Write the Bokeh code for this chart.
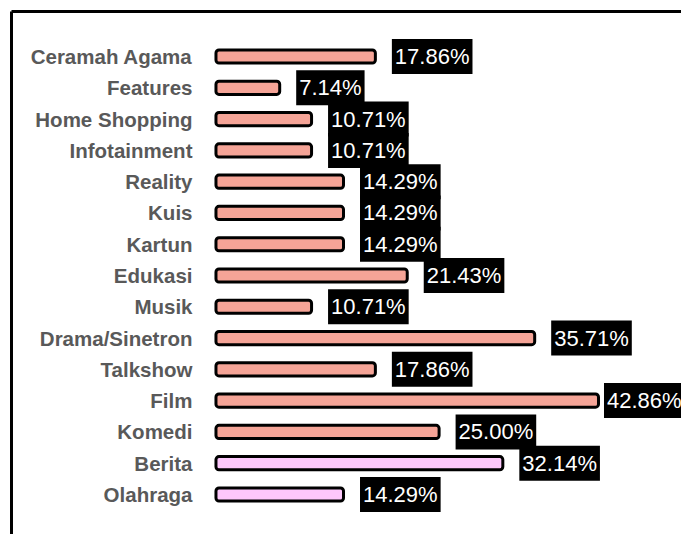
from bokeh.plotting import figure
from bokeh.models import ColumnDataSource, Range1d
from bokeh.embed import file_html
from bokeh.resources import INLINE
from bokeh.core.properties import value

categories = ["Ceramah Agama", "Features", "Home Shopping", "Infotainment", "Reality",
              "Kuis", "Kartun", "Edukasi", "Musik", "Drama/Sinetron", "Talkshow",
              "Film", "Komedi", "Berita", "Olahraga"]
percentages = [17.86, 7.14, 10.71, 10.71, 14.29, 14.29, 14.29, 21.43, 10.71, 35.71,
               17.86, 42.86, 25.00, 32.14, 14.29]
groups = ["a"] * 13 + ["b"] * 2

SALMON = "#F5A497"
PINK = "#FDC7FB"

n = len(categories)
rows = [n - 1 - i for i in range(n)]
labels = ["%.2f%%" % v for v in percentages]
colors = [SALMON if g == "a" else PINK for g in groups]
vmax = max(percentages)
offsets = [5.5 if v == vmax else 16.5 for v in percentages]

src = ColumnDataSource(dict(row=rows, cat=categories, pct=percentages,
                            label=labels, color=colors, off=offsets))

p = figure(width=681, height=534, output_backend="svg", toolbar_location=None,
           x_range=Range1d(-22.91, 52.16), y_range=Range1d(-1.28, 15.44),
           x_axis_location="above", min_border=0, min_border_left=11, min_border_top=11)
p.outline_line_color = None
p.grid.visible = False
for ax in (p.xaxis, p.yaxis):
    ax.ticker = []
    ax.major_tick_line_color = None
    ax.minor_tick_line_color = None
    ax.major_label_text_font_size = "0px"
    ax.major_label_standoff = 0
    ax.axis_line_color = "black"
    ax.axis_line_width = 3

p.hbar(y="row", left=0, right="pct", height=0.42, fill_color="color",
       line_color="black", line_width=3, border_radius=3, source=src)

p.text(x=0, y="row", text="cat", x_offset=-23.5, text_align="right",
       text_baseline="middle", text_font=value("Liberation Sans"),
       text_font_style="bold", text_font_size="20.5px", text_color="#595959",
       source=src)

p.text(x="pct", y="row", text="label", x_offset="off", text_align="left",
       text_baseline="middle", text_font=value("Liberation Sans"),
       text_font_size="22px", text_color="white",
       background_fill_color="black", padding=(3, 5), source=src)

open("out.html", "w").write(file_html(p, INLINE))
